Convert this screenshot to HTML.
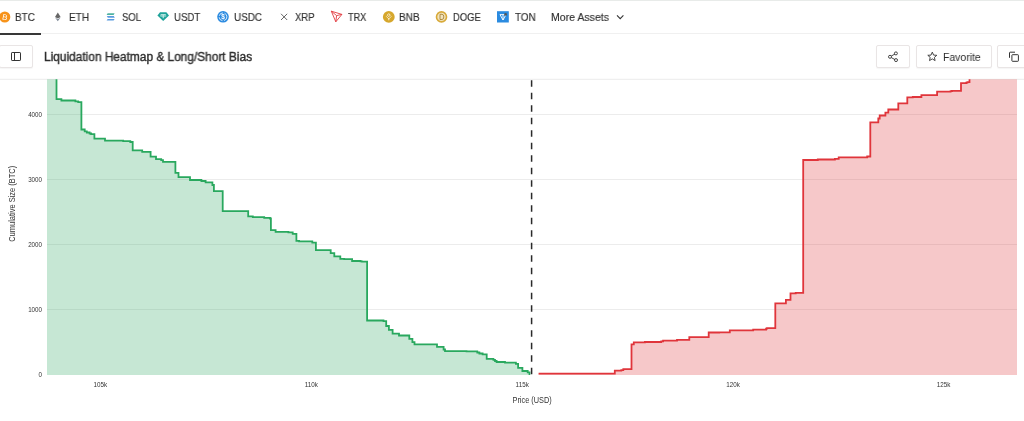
<!DOCTYPE html>
<html><head><meta charset="utf-8">
<style>
html,body{-webkit-font-smoothing:antialiased;margin:0;padding:0;background:#fff;width:1024px;height:421px;overflow:hidden;position:relative;font-family:"Liberation Sans",sans-serif;color:#2b2b2b}
.a{position:absolute;white-space:nowrap;will-change:transform}
.tab{font-size:10.6px;line-height:13px;top:11.2px;color:#2f2f2f;-webkit-text-stroke:0.15px #2f2f2f;transform-origin:0 50%}
.btn{position:absolute;border:1px solid #e9e5e5;border-radius:2px;background:#fff;box-shadow:0 1px 1px rgba(0,0,0,0.04);box-sizing:border-box}
svg{position:absolute;left:0;top:0}
</style></head><body>
<!-- top line -->
<div class="a" style="left:0;top:0;width:1024px;height:1px;background:#e8ebe9"></div>
<!-- tabs separator -->
<div class="a" style="left:0;top:33.3px;width:1024px;height:1px;background:#f0f0f0"></div>
<div class="a" style="left:0;top:33px;width:41px;height:1.9px;background:#383838"></div>

<!-- header icons -->
<svg width="1024" height="40" viewBox="0 0 1024 40">
  <!-- BTC -->
  <circle cx="4.8" cy="17" r="5.5" fill="#f7931a"/>
  <text x="4.9" y="19.9" font-size="8" font-family="Liberation Sans" fill="#fff" text-anchor="middle" transform="rotate(12 4.9 16.9)">B</text>
  <!-- ETH -->
  <path d="M57.8 12.6 L60.6 17 L57.8 18.6 L55 17 Z" fill="#666"/>
  <path d="M57.8 19.3 L60.6 17.6 L57.8 21.2 L55 17.6 Z" fill="#7a8594"/>
  <!-- SOL -->
  <path d="M107.6 13.3 H114.6 L113.6 14.9 H106.6 Z" fill="#4fb3a0"/>
  <path d="M106.8 16.1 H113.8 L114.8 17.7 H107.8 Z" fill="#5a9be0"/>
  <path d="M107.6 18.9 H114.6 L113.6 20.5 H106.6 Z" fill="#5a9be0"/>
  <!-- USDT -->
  <path d="M160 12.2 H166.4 L169 15.6 L163.2 21 L157.4 15.6 Z" fill="#1fa39a"/>
  <path d="M160.6 14.3 H165.8 V15.2 H163.7 V18.2 H162.7 V15.2 H160.6 Z" fill="#d9f2ee"/>
  <ellipse cx="163.2" cy="15.9" rx="3" ry="0.8" fill="none" stroke="#d9f2ee" stroke-width="0.5"/>
  <!-- USDC -->
  <circle cx="223" cy="16.8" r="5.8" fill="#2a8ae0"/>
  <circle cx="223" cy="16.8" r="3.9" fill="none" stroke="#fff" stroke-width="0.8" stroke-dasharray="5 1.5"/>
  <text x="223" y="19.4" font-size="6.5" font-family="Liberation Sans" font-weight="bold" fill="#fff" text-anchor="middle">$</text>
  <!-- XRP -->
  <path d="M281 13.8 L287.2 20 M287.2 13.8 L281 20" stroke="#555" stroke-width="0.9" fill="none"/>
  <!-- TRX -->
  <path d="M331.3 11.2 L341.9 14.4 L335.8 21.8 Z M331.3 11.2 L336.6 15.6 L341.9 14.4 M336.6 15.6 L335.8 21.8" stroke="#e23a40" stroke-width="0.9" fill="none" stroke-linejoin="round"/>
  <!-- BNB -->
  <circle cx="388.8" cy="16.9" r="5.9" fill="#d6a72c"/>
  <path d="M388.8 13.6 L390.3 15.1 L388.8 16.6 L387.3 15.1 Z M386.3 16.4 L387.3 17.4 L388.8 18.9 L390.3 17.4 L391.3 16.4 M388.8 18.9 V20.3" stroke="#fff" stroke-width="0.8" fill="none"/>
  <!-- DOGE -->
  <circle cx="441.5" cy="16.9" r="5.8" fill="#d8aa3a"/>
  <circle cx="441.5" cy="16.9" r="4.2" fill="#f1e3bd"/>
  <path d="M440 14.3 H442 Q443.8 14.3 443.8 16.9 Q443.8 19.5 442 19.5 H440 Z" fill="none" stroke="#a07a2a" stroke-width="0.8"/>
  <!-- TON -->
  <rect x="497" y="11.2" width="11.8" height="11.3" fill="#2b8be0"/>
  <path d="M500 14.6 H506 L503 20 Z M503 14.6 V20" stroke="#fff" stroke-width="0.9" fill="none"/>
  <circle cx="505.6" cy="14.4" r="1.4" fill="#555"/>
  <!-- chevron -->
  <path d="M617 15.4 L620.2 18.6 L623.4 15.4" stroke="#333" stroke-width="1.1" fill="none"/>
</svg>

<div class="a tab" style="left:15.29px;transform:scaleX(0.940)">BTC</div>
<div class="a tab" style="left:68.88px;transform:scaleX(0.952)">ETH</div>
<div class="a tab" style="left:121.87px;transform:scaleX(0.898)">SOL</div>
<div class="a tab" style="left:173.89px;transform:scaleX(0.911)">USDT</div>
<div class="a tab" style="left:233.50px;transform:scaleX(0.934)">USDC</div>
<div class="a tab" style="left:294.73px;transform:scaleX(0.895)">XRP</div>
<div class="a tab" style="left:347.67px;transform:scaleX(0.867)">TRX</div>
<div class="a tab" style="left:398.78px;transform:scaleX(0.946)">BNB</div>
<div class="a tab" style="left:452.93px;transform:scaleX(0.887)">DOGE</div>
<div class="a tab" style="left:514.76px;transform:scaleX(0.933)">TON</div>
<div class="a tab" style="left:551.34px;transform:scaleX(0.994)">More Assets</div>

<!-- title bar -->
<div class="btn" style="left:-1px;top:45px;width:33.5px;height:22.5px"></div>
<div class="a" style="left:43.6px;top:50px;font-size:12px;line-height:14px;color:#2e2e2e;-webkit-text-stroke:0.4px #2e2e2e;transform-origin:0 50%;transform:scaleX(0.99)">Liquidation Heatmap &amp; Long/Short Bias</div>

<div class="btn" style="left:876px;top:45.2px;width:34px;height:22.5px"></div>
<div class="btn" style="left:915.8px;top:45.2px;width:76.2px;height:22.5px"></div>
<div class="btn" style="left:996.8px;top:45.2px;width:40px;height:22.5px"></div>
<div class="a" style="left:943.05px;top:50.5px;font-size:11px;line-height:13px;transform-origin:0 50%;transform:scaleX(0.952)">Favorite</div>

<svg width="1024" height="80" viewBox="0 0 1024 80" style="top:0">
  <!-- sidebar icon -->
  <rect x="11.5" y="52.5" width="9" height="8" rx="0.6" fill="none" stroke="#333" stroke-width="1"/>
  <path d="M14.5 52.5 V60.5" stroke="#333" stroke-width="1"/>
  <!-- share -->
  <g transform="translate(0.8 0)">
  <circle cx="889.2" cy="56.8" r="1.5" fill="none" stroke="#333" stroke-width="0.9"/>
  <circle cx="895.1" cy="53.4" r="1.5" fill="none" stroke="#333" stroke-width="0.9"/>
  <circle cx="895.2" cy="60.1" r="1.5" fill="none" stroke="#333" stroke-width="0.9"/>
  <path d="M890.5 56 L894.2 54 M890.5 57.6 L894.2 59.6" stroke="#333" stroke-width="0.9"/>
  </g>
  <!-- star -->
  <path d="M932.3 52.1 L933.6 55.1 L936.8 55.3 L934.4 57.4 L935.1 60.6 L932.3 58.9 L929.5 60.6 L930.2 57.4 L927.8 55.3 L931 55.1 Z" fill="none" stroke="#333" stroke-width="0.9" stroke-linejoin="round"/>
  <!-- copy -->
  <rect x="1011.9" y="54.7" width="6.5" height="6.6" rx="0.6" fill="none" stroke="#333" stroke-width="1"/>
  <path d="M1009.5 57.8 V52.8 Q1009.5 52.2 1010.1 52.2 H1015" fill="none" stroke="#333" stroke-width="1"/>
</svg>

<!-- chart -->
<svg width="1024" height="421" viewBox="0 0 1024 421">
  <defs><clipPath id="pc"><rect x="47" y="79.3" width="970" height="296"/></clipPath></defs>
  <!-- gridlines -->
  <g stroke="#ececec" stroke-width="1">
    <path d="M0 79.3 H1024"/>
    <path d="M47 114.5 H1017 M47 179.5 H1017 M47 244.5 H1017 M47 309.5 H1017"/>
  </g>
  <g clip-path="url(#pc)">
  <path id="gf" fill="#21a459" fill-opacity="0.26" d="M47 375.1 V79 H56.5 V99.2 H61.4 V100.5 H75.4 V101.4 H78.2 V102.1 H81.4 V129.5 H84.7 V131.3 H86.8 V132.5 H89.6 V133.5 H91.1 V134.1 H94.4 V138.6 H105 V140.6 H123.2 V141.1 H130.3 V142 H132.7 V150.3 H142.2 V151.9 H150.6 V156.6 H156 V159.2 H161.2 V160.2 H163 V161.8 H175.4 V172.8 H178.5 V177.1 H190 V180 H201.4 V181 H205.6 V182.4 H212.4 V185 H213.9 V191.2 H222.7 V211.1 H248.2 V216.4 H252.8 V217.1 H264.2 V217.8 H270 V218.5 H270.9 V230.2 H275.6 V231.8 H288.4 V232.4 H292.7 V233.8 H296.4 V240.8 H299.1 V241.4 H312.3 V242.7 H315.9 V250.2 H330.7 V253.2 H334.3 V256.3 H340.3 V258.8 H344.2 V259.2 H352.1 V261 H360.6 V261.3 H362 V261.6 H367.1 V320.5 H383.5 V321.2 H386.2 V326 H388.9 V329.8 H392.6 V333.7 H399 V335.5 H409.3 V338.9 H412.4 V342.1 H414.5 V344.4 H437 V346.8 H443.6 V349.5 H445 V351.1 H466.5 V351.4 H477.3 V352.5 H479.4 V353.5 H482.6 V354.3 H486.7 V358.8 H493.4 V359.9 H495 V361 H496.6 V362 H505 V362.7 H515.9 V363.8 H518.1 V367.8 H522.4 V371 H527.7 V372.3 H529.5 V375.1 Z"/>
  <path fill="none" stroke="#29a85e" stroke-width="1.8" d="M56.5 70 V99.2 H61.4 V100.5 H75.4 V101.4 H78.2 V102.1 H81.4 V129.5 H84.7 V131.3 H86.8 V132.5 H89.6 V133.5 H91.1 V134.1 H94.4 V138.6 H105 V140.6 H123.2 V141.1 H130.3 V142 H132.7 V150.3 H142.2 V151.9 H150.6 V156.6 H156 V159.2 H161.2 V160.2 H163 V161.8 H175.4 V172.8 H178.5 V177.1 H190 V180 H201.4 V181 H205.6 V182.4 H212.4 V185 H213.9 V191.2 H222.7 V211.1 H248.2 V216.4 H252.8 V217.1 H264.2 V217.8 H270 V218.5 H270.9 V230.2 H275.6 V231.8 H288.4 V232.4 H292.7 V233.8 H296.4 V240.8 H299.1 V241.4 H312.3 V242.7 H315.9 V250.2 H330.7 V253.2 H334.3 V256.3 H340.3 V258.8 H344.2 V259.2 H352.1 V261 H360.6 V261.3 H362 V261.6 H367.1 V320.5 H383.5 V321.2 H386.2 V326 H388.9 V329.8 H392.6 V333.7 H399 V335.5 H409.3 V338.9 H412.4 V342.1 H414.5 V344.4 H437 V346.8 H443.6 V349.5 H445 V351.1 H466.5 V351.4 H477.3 V352.5 H479.4 V353.5 H482.6 V354.3 H486.7 V358.8 H493.4 V359.9 H495 V361 H496.6 V362 H505 V362.7 H515.9 V363.8 H518.1 V367.8 H522.4 V371 H527.7 V372.3 H529.5 V374 H530.3"/>
  <path fill="#e0383c" fill-opacity="0.28" d="M538.6 375.1 V373.6 H614.8 V370.7 H621.3 V370.2 H623.3 V369.1 H631.5 V344.3 H633.8 V342.4 H644.9 V342 H661.2 V341.3 H663.1 V340.7 H677 V339.9 H689.3 V337.1 H708.7 V332.5 H719.2 V332.3 H729.8 V330.3 H753.2 V329.7 H766.1 V328.6 H767 V328.2 H775.3 V303.3 H785.9 V299.9 H790.5 V293.3 H795.7 V292.8 H803.2 V160 H817.8 V159.5 H834.9 V158.8 H838.7 V157.3 H867.2 V156.5 H870.3 V122.3 H878.3 V118.5 H879.7 V115.5 H885.4 V112.6 H888.3 V109.5 H898.3 V103.3 H907.3 V97.4 H912.8 V97 H921.4 V95.2 H937.1 V91.7 H950.6 V91.2 H952 V90.8 H961 V83.1 H966.3 V82.6 H967.4 V82.1 H969.5 V70 H1017 V375.1 Z"/>
  <path fill="none" stroke="#e0353b" stroke-width="1.8" d="M538.6 373.6 H614.8 V370.7 H621.3 V370.2 H623.3 V369.1 H631.5 V344.3 H633.8 V342.4 H644.9 V342 H661.2 V341.3 H663.1 V340.7 H677 V339.9 H689.3 V337.1 H708.7 V332.5 H719.2 V332.3 H729.8 V330.3 H753.2 V329.7 H766.1 V328.6 H767 V328.2 H775.3 V303.3 H785.9 V299.9 H790.5 V293.3 H795.7 V292.8 H803.2 V160 H817.8 V159.5 H834.9 V158.8 H838.7 V157.3 H867.2 V156.5 H870.3 V122.3 H878.3 V118.5 H879.7 V115.5 H885.4 V112.6 H888.3 V109.5 H898.3 V103.3 H907.3 V97.4 H912.8 V97 H921.4 V95.2 H937.1 V91.7 H950.6 V91.2 H952 V90.8 H961 V83.1 H966.3 V82.6 H967.4 V82.1 H969.5 V70"/>
  </g>
  <!-- current price dashed line -->
  <path d="M531.6 80.3 V374.4" stroke="#2a2a2a" stroke-width="1.5" stroke-dasharray="6.4 6.1"/>
  <!-- y axis labels -->
  <g font-family="Liberation Sans" font-size="7" fill="#333" text-anchor="end">
    <text transform="translate(42 117) scale(0.89 1)">4000</text>
    <text transform="translate(42 182) scale(0.89 1)">3000</text>
    <text transform="translate(42 247) scale(0.89 1)">2000</text>
    <text transform="translate(42 312) scale(0.89 1)">1000</text>
    <text transform="translate(42 377) scale(0.89 1)">0</text>
  </g>
  <g font-family="Liberation Sans" font-size="7" fill="#333" text-anchor="middle">
    <text transform="translate(100.3 387) scale(0.9 1)">105k</text>
    <text transform="translate(311.3 387) scale(0.9 1)">110k</text>
    <text transform="translate(522.2 387) scale(0.9 1)">115k</text>
    <text transform="translate(733 387) scale(0.9 1)">120k</text>
    <text transform="translate(943.65 387) scale(0.9 1)">125k</text>
  </g>
  <text transform="translate(532.1 402.9) scale(0.865 1)" font-family="Liberation Sans" font-size="8.5" fill="#333" text-anchor="middle">Price (USD)</text>
  <text transform="translate(15.2 203.8) rotate(-90) scale(0.88 1)" font-family="Liberation Sans" font-size="8.5" fill="#333" text-anchor="middle">Cumulative Size (BTC)</text>
</svg>
</body></html>
